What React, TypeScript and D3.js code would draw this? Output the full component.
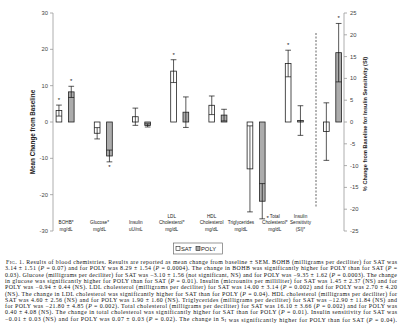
import React from 'react';
import * as d3 from 'd3';

const categories = ['BOHB', 'Glucose', 'Insulin', 'LDL', 'HDL', 'Triglycerides', 'Total', 'SI'];
const labelLines = [
  ['BOHB*', 'mg/dL'],
  ['Glucose*', 'mg/dL'],
  ['Insulin', 'uU/mL'],
  ['LDL', 'Cholesterol*', 'mg/dL'],
  ['HDL', 'Cholesterol', 'mg/dL'],
  ['Triglycerides', 'mg/dL'],
  ['Total', 'Cholesterol*', 'mg/dL'],
  ['Insulin', 'Sensitivity', '(SI)*'],
];
const satMean = [3.14, -3.1, 1.45, 14.0, 4.6, -12.9, 16.1, -2.2];
const satErr = [1.51, 1.56, 2.37, 3.14, 2.56, 11.84, 3.66, 6.6];
const polyMean = [8.29, -9.35, -0.94, 2.7, 1.9, -21.8, 0.4, 15.9];
const polyErr = [1.54, 1.62, 0.44, 4.2, 1.6, 4.85, 4.08, 6.7];
const satSig = [true, false, false, true, false, false, true, false];
const polySig = [true, true, false, false, false, true, false, true];
const useRightAxis = [false, false, false, false, false, false, false, true];
const leftTicks = [-30, -20, -10, 0, 10, 20, 30];
const rightTicks = [-25, -20, -15, -10, -5, 0, 5, 10, 15, 20, 25];
const seriesNames = ['SAT', 'POLY'];

const captionLines = [
  'IG. 1. Results of blood chemistries. Results are reported as mean change from baseline \u00b1 SEM. BOHB (milligrams per deciliter) for SAT was',
  '3.14 \u00b1 1.51 (P = 0.07) and for POLY was 8.29 \u00b1 1.54 (P = 0.0004). The change in BOHB was significantly higher for POLY than for SAT (P =',
  '0.03). Glucose (milligrams per deciliter) for SAT was \u22123.10 \u00b1 1.56 (not significant, NS) and for POLY was \u22129.35 \u00b1 1.62 (P = 0.0003). The change',
  'in glucose was significantly higher for POLY than for SAT (P = 0.01). Insulin (microunits per milliliter) for SAT was 1.45 \u00b1 2.37 (NS) and for',
  'POLY was \u22120.94 \u00b1 0.44 (NS). LDL cholesterol (milligrams per deciliter) for SAT was 14.00 \u00b1 3.14 (P = 0.002) and for POLY was 2.70 \u00b1 4.20',
  '(NS). The change in LDL cholesterol was significantly higher for SAT than for POLY (P = 0.04). HDL cholesterol (milligrams per deciliter) for',
  'SAT was 4.60 \u00b1 2.56 (NS) and for POLY was 1.90 \u00b1 1.60 (NS). Triglycerides (milligrams per deciliter) for SAT was \u221212.90 \u00b1 11.84 (NS) and',
  'for POLY was \u221221.80 \u00b1 4.85 (P = 0.002). Total cholesterol (milligrams per deciliter) for SAT was 16.10 \u00b1 3.66 (P = 0.002) and for POLY was',
  '0.40 \u00b1 4.08 (NS). The change in total cholesterol was significantly higher for SAT than for POLY (P = 0.01). Insulin sensitivity for SAT was',
  '\u22120.01 \u00b1 0.03 (NS) and for POLY was 0.07 \u00b1 0.03 (P = 0.02). The change in S_I was significantly higher for POLY than for SAT (P = 0.04).',
];

// layout
const W = 400;
const H = 330;
const labelDx = [1, -3.8, -5.7, -8, -6.3, -15.2, -19.5, -32];

function renderCaptionPieces(line: string) {
  const parts = line.split(/(\bP\b|S_I)/);
  return parts.map((p, i) => {
    if (p === 'P') return <tspan key={i} fontStyle="italic">P</tspan>;
    if (p === 'S_I')
      return (
        <React.Fragment key={i}>
          <tspan>S</tspan>
          <tspan fontSize="4" dy="1">I</tspan>
          <tspan dy="-1">{''}</tspan>
        </React.Fragment>
      );
    return <tspan key={i}>{p}</tspan>;
  });
}

export default function App() {
  const yL = d3.scaleLinear().domain([-30, 30]).range([231, 13]);
  const yR = d3.scaleLinear().domain([-25, 25]).range([231, 13]);
  const x = d3.scaleBand().domain(categories).range([46, 351.6]);
  const barW = 5.7;
  const offs = [-9, 3.3];
  const fills = ['#ffffff', '#acacac'];
  const sansFont = '"Liberation Sans", Arial, sans-serif';
  const serifFont = '"Liberation Serif", "Times New Roman", serif';

  const marks: React.ReactNode[] = [];
  categories.forEach((c, i) => {
    const y = useRightAxis[i] ? yR : yL;
    const cx = (x(c) as number) + x.bandwidth() / 2;
    const series = [
      { m: satMean[i], e: satErr[i], s: satSig[i] },
      { m: polyMean[i], e: polyErr[i], s: polySig[i] },
    ];
    series.forEach((d, k) => {
      const bx = cx + offs[k];
      const y0 = y(0);
      const yv = y(d.m);
      const mid = bx + barW / 2;
      marks.push(
        <rect key={`b${i}${k}`} x={bx} y={Math.min(y0, yv)} width={barW} height={Math.abs(yv - y0)}
          fill={fills[k]} stroke="#222" strokeWidth={0.8} />
      );
      const yt = y(d.m + d.e);
      const yb = y(d.m - d.e);
      marks.push(
        <g key={`e${i}${k}`} stroke="#111" strokeWidth={0.7}>
          <line x1={mid} x2={mid} y1={yt} y2={yb} />
          <line x1={bx} x2={bx + barW} y1={yt} y2={yt} />
          <line x1={bx} x2={bx + barW} y1={yb} y2={yb} />
        </g>
      );
      if (d.s) {
        let sx = mid;
        let sy = d.m >= 0 ? yt - 3 : yb + 7;
        let anchor: 'middle' | 'start' = 'middle';
        if (sy > 212) {
          sx = bx + barW + 1.5;
          sy = yb + 1;
          anchor = 'start';
        }
        marks.push(
          <text key={`s${i}${k}`} x={sx} y={sy} fontSize={6} textAnchor={anchor} fontFamily={sansFont} fill="#111">*</text>
        );
      }
    });
    const lines = labelLines[i];
    const lastBase = 231;
    lines.forEach((t, j) => {
      marks.push(
        <text key={`l${i}${j}`} x={cx + labelDx[i]} y={lastBase - (lines.length - 1 - j) * 6.6}
          fontSize={4.7} textAnchor="middle" fontFamily={sansFont} fill="#222">{t}</text>
      );
    });
  });

  const axisColor = '#999';
  const dashX = 316;

  return (
    <svg width={W} height={H} style={{ position: 'absolute', left: 0, top: 0, background: '#fff' }}>
      <rect x={0} y={0} width={W} height={H} fill="#fff" />
      {/* left axis */}
      <line x1={53} x2={53} y1={yL(30)} y2={yL(-30)} stroke={axisColor} strokeWidth={0.8} />
      {leftTicks.map((t) => (
        <g key={`lt${t}`}>
          <line x1={50} x2={53} y1={yL(t)} y2={yL(t)} stroke={axisColor} strokeWidth={0.8} />
          <text x={48} y={yL(t) + 2} fontSize={5.8} textAnchor="end" fontFamily={sansFont} fill="#444">{t}</text>
        </g>
      ))}
      <text transform={`translate(35,132) rotate(-90)`} fontSize={6.3} fontWeight="bold" textAnchor="middle"
        fontFamily={sansFont} fill="#222">Mean Change from Baseline</text>
      {/* right axis */}
      <line x1={344} x2={344} y1={yR(25)} y2={yR(-25)} stroke={axisColor} strokeWidth={0.8} />
      {rightTicks.map((t) => (
        <g key={`rt${t}`}>
          <line x1={344} x2={347} y1={yR(t)} y2={yR(t)} stroke={axisColor} strokeWidth={0.8} />
          <text x={350} y={yR(t) + 2} fontSize={5.8} textAnchor="start" fontFamily={sansFont} fill="#444">{t}</text>
        </g>
      ))}
      <text transform={`translate(367,124) rotate(-90)`} fontSize={5.6} fontWeight="bold" textAnchor="middle"
        fontFamily={sansFont} fill="#222">% Change from Baseline for Insulin Sensitivity (SI)</text>
      {/* dashed separator */}
      <line x1={dashX} x2={dashX} y1={33} y2={208} stroke="#222" strokeWidth={0.7} strokeDasharray="2,1.5" />
      {marks}
      {/* legend */}
      <g fontFamily={sansFont} fontSize={5.8} fill="#222">
        <rect x={173.5} y={243} width={49} height={11} fill="#fff" stroke="#555" strokeWidth={0.6} />
        <rect x={176} y={246.5} width={4} height={4} fill={fills[0]} stroke="#222" strokeWidth={0.6} />
        <text x={181} y={250.8}>{seriesNames[0]}</text>
        <rect x={196} y={246.5} width={4} height={4} fill={fills[1]} stroke="#222" strokeWidth={0.6} />
        <text x={201} y={250.8}>{seriesNames[1]}</text>
      </g>
      {/* caption */}
      <g fontFamily={serifFont} fontSize={5.9} fill="#111">
        {captionLines.map((ln, i) => {
          const y = 264 + i * 6.3;
          if (i === 0) {
            return (
              <text key={`c${i}`} x={6} y={y} textLength={391} lengthAdjust="spacing">
                <tspan>F</tspan>
                <tspan fontSize={4.6}>IG</tspan>
                {renderCaptionPieces(ln.slice(2))}
              </text>
            );
          }
          return (
            <text key={`c${i}`} x={5} y={y} textLength={392} lengthAdjust="spacing">
              {renderCaptionPieces(ln)}
            </text>
          );
        })}
      </g>
    </svg>
  );
}
